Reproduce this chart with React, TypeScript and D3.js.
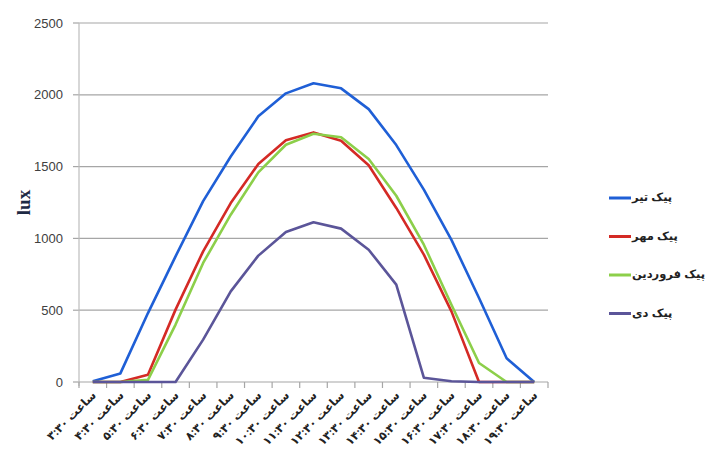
import React from 'react';
import * as d3 from 'd3';

// hour labels on the x axis
const hours = ['۳:۳۰', '۴:۳۰', '۵:۳۰', '۶:۳۰', '۷:۳۰', '۸:۳۰', '۹:۳۰', '۱۰:۳۰', '۱۱:۳۰',
    '۱۲:۳۰', '۱۳:۳۰', '۱۴:۳۰', '۱۵:۳۰', '۱۶:۳۰', '۱۷:۳۰', '۱۸:۳۰', '۱۹:۳۰'];
const categories = hours.map((h) => 'ساعت ' + h);

const tir = [5, 60, 480, 875, 1260, 1570, 1850, 2010, 2080, 2045, 1900, 1650, 1340, 990, 585, 165, 0];
const mehr = [0, 0, 50, 504, 910, 1246, 1518, 1683, 1738, 1680, 1509, 1212, 887, 492, 0, 0, 0];
const farvardin = [0, 0, 15, 400, 829, 1165, 1460, 1652, 1729, 1704, 1553, 1297, 956, 538, 132, 0, 0];
const dey = [0, 0, 0, 0, 295, 631, 880, 1044, 1112, 1068, 921, 678, 30, 5, 0, 0, 0];

const seriesNames = ['پیک تیر', 'پیک مهر', 'پیک فروردین', 'پیک دی'];
const seriesColors = ['#1f5fd6', '#d42a25', '#8ccf4a', '#5b5599'];
const seriesData = [tir, mehr, farvardin, dey];

const yTicks = [0, 500, 1000, 1500, 2000, 2500];

const W = 720;
const H = 474;
const margin = { top: 23, right: 172, bottom: 92, left: 79 };

const App = () => {
    const x = d3.scaleBand<string>()
        .domain(categories)
        .range([margin.left, W - margin.right]);
    const y = d3.scaleLinear().domain([0, 2500]).range([H - margin.bottom, margin.top]);

    const line = d3.line<number>()
        .x((_, i) => (x(categories[i]) as number) + x.bandwidth() / 2)
        .y((d) => y(d));

    const font = "'Liberation Sans', 'DejaVu Sans', sans-serif";
    const tickEdges = categories.map((c) => x(c) as number).concat([W - margin.right]);

    return (
        <svg width={W} height={H} style={{ position: 'absolute', left: 0, top: 0, background: '#fff' }}>
            {/* grid lines and y ticks */}
            {yTicks.map((t) => (
                <g key={t}>
                    {t > 0 && (
                        <line x1={margin.left} x2={W - margin.right} y1={y(t)} y2={y(t)}
                            stroke="#a6a6a6" strokeWidth={1.2} />
                    )}
                    <line x1={margin.left - 6} x2={margin.left} y1={y(t)} y2={y(t)}
                        stroke="#a6a6a6" strokeWidth={1.2} />
                    <text x={margin.left - 16} y={y(t)} dy="0.35em" textAnchor="end"
                        fontFamily={font} fontSize={13} fill="#404040">{t}</text>
                </g>
            ))}
            {/* axes */}
            <line x1={margin.left} x2={margin.left} y1={margin.top} y2={y(0) + 4}
                stroke="#bdbdbd" strokeWidth={1.2} />
            <line x1={margin.left} x2={W - margin.right} y1={y(0)} y2={y(0)}
                stroke="#a6a6a6" strokeWidth={1.2} />
            {tickEdges.map((tx, i) => (
                <line key={i} x1={tx} x2={tx} y1={y(0)} y2={y(0) + 6} stroke="#a6a6a6" strokeWidth={1.2} />
            ))}
            {/* x labels */}
            {categories.map((c) => {
                const cx = (x(c) as number) + x.bandwidth() / 2 + 4;
                const cy = y(0) + 14;
                return (
                    <text key={c} x={cx} y={cy} textAnchor="end" fontFamily={font} fontSize={11.5}
                        fontWeight="bold" fill="#222" transform={`rotate(-45, ${cx}, ${cy})`}>{c}</text>
                );
            })}
            {/* y title */}
            <text transform={`translate(30, ${y(1250)}) rotate(-90)`} textAnchor="middle"
                fontFamily="'Liberation Serif', serif" fontSize={19} fontWeight="bold" fill="#1e2a44">lux</text>
            {/* series */}
            {seriesData.map((s, i) => (
                <path key={i} d={line(s) as string} fill="none" stroke={seriesColors[i]}
                    strokeWidth={2.6} strokeLinejoin="round" />
            ))}
            {/* legend */}
            {seriesNames.map((n, i) => {
                const ly = 198 + i * 38.5;
                return (
                    <g key={n}>
                        <line x1={609} x2={631} y1={ly} y2={ly} stroke={seriesColors[i]} strokeWidth={3} />
                        <text x={632} y={ly} dy="0.3em" fontFamily={font} fontSize={11.5}
                            fontWeight="bold" fill="#222">{n}</text>
                    </g>
                );
            })}
        </svg>
    );
};

export default App;
